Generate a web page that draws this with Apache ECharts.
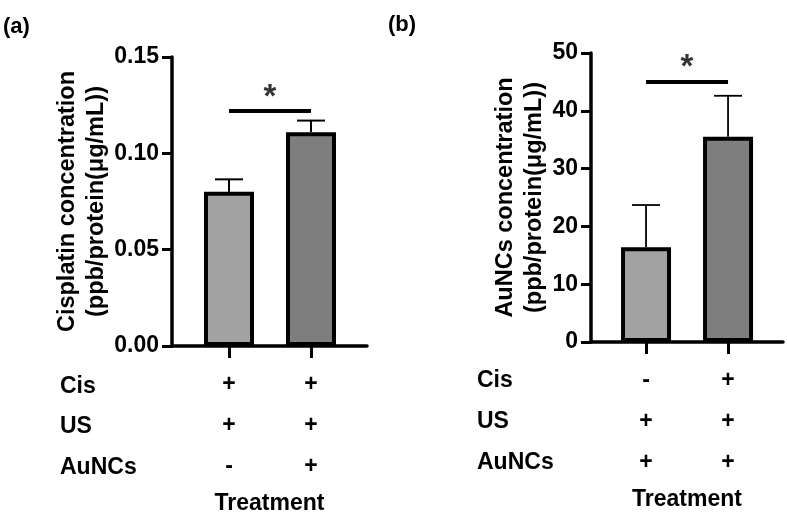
<!DOCTYPE html>
<html>
<head>
<meta charset="utf-8">
<script src="https://cdn.jsdelivr.net/npm/echarts@6/dist/echarts.min.js"></script>
<style>html,body{margin:0;padding:0;background:#fff}#c{width:787px;height:523px}</style>
</head>
<body>
<div id="c"></div>
<script>
// ---------- data ----------
const groupPos = [1, 2];
const rowLabels = ['Cis', 'US', 'AuNCs'];
const signsA = [['+', '+'], ['+', '+'], ['-', '+']];
const signsB = [['-', '+'], ['+', '+'], ['+', '+']];
const meansA = [0.080, 0.111];
const errA = [0.0065, 0.006];
const meansB = [16.4, 35.5];
const errB = [7.3, 7.1];
const sigA = [1, 2, 0.122];
const sigB = [1, 2, 45];
const yTicksA = [0, 0.05, 0.10, 0.15];
const yTicksB = [0, 10, 20, 30, 40, 50];
const titleA = ['Cisplatin concentration', '(ppb/protein(μg/mL))'];
const titleB = ['AuNCs concentration', '(ppb/protein(μg/mL))'];
const barColors = ['#a2a2a2', '#7e7e7e'];

// ---------- style ----------
const FF = '"Liberation Sans", Arial, Helvetica, sans-serif';
const txt = { fontFamily: FF, fontWeight: 'bold', color: '#000' };

function xLabel(signs) {
  return function (v) {
    const i = groupPos.indexOf(Math.round(v));
    return signs.map(r => r[i]).join('\n');
  };
}

function makeX(gi, min, max, signs, gap) {
  return {
    gridIndex: gi, type: 'value', min: min, max: max,
    axisLine: { show: true, onZero: false, lineStyle: { color: '#000', width: 3.5 } },
    axisTick: { show: true, customValues: groupPos, length: 12, lineStyle: { color: '#000', width: 3 } },
    axisLabel: Object.assign({ show: true, customValues: groupPos, formatter: xLabel(signs), fontSize: 23, lineHeight: 41, margin: 18 }, txt),
    splitLine: { show: false },
    name: 'Treatment', nameLocation: 'middle', nameGap: gap,
    nameTextStyle: Object.assign({ fontSize: 23 }, txt)
  };
}
function makeY(gi, max, interval, dec, title, gap) {
  return {
    gridIndex: gi, type: 'value', min: 0, max: max, interval: interval,
    axisLine: { show: true, lineStyle: { color: '#000', width: 3.5 } },
    axisTick: { show: true, length: 10, lineStyle: { color: '#000', width: 3 } },
    axisLabel: Object.assign({ fontSize: 23, margin: 13, formatter: v => v.toFixed(dec) }, txt),
    splitLine: { show: false },
    name: title.join('\n'), nameLocation: 'middle', nameRotate: 90, nameGap: gap,
    nameTextStyle: Object.assign({ fontSize: 23.5, lineHeight: 28.5, align: 'center' }, txt)
  };
}
function barSeries(gi, means) {
  return {
    type: 'bar', xAxisIndex: gi, yAxisIndex: gi, barWidth: 50,
    data: means.map((m, i) => ({ value: [groupPos[i], m], itemStyle: { color: barColors[i] } })),
    itemStyle: { borderColor: '#000', borderWidth: 4 }, z: 2
  };
}
function errSeries(gi, means, errs, lw) {
  return {
    type: 'custom', xAxisIndex: gi, yAxisIndex: gi, z: 1,
    data: means.map((m, i) => [groupPos[i], m, m + errs[i]]),
    renderItem: function (params, api) {
      const p0 = api.coord([api.value(0), api.value(1)]);
      const p1 = api.coord([api.value(0), api.value(2)]);
      const st = { stroke: '#000', lineWidth: lw };
      return { type: 'group', children: [
        { type: 'line', shape: { x1: p0[0], y1: p0[1], x2: p1[0], y2: p1[1] }, style: st },
        { type: 'line', shape: { x1: p1[0] - 14, y1: p1[1], x2: p1[0] + 14, y2: p1[1] }, style: st }
      ] };
    }
  };
}
function sigSeries(gi, sig) {
  return [
    { type: 'line', xAxisIndex: gi, yAxisIndex: gi, symbol: 'none', silent: true,
      data: [[sig[0], sig[2]], [sig[1], sig[2]]], lineStyle: { color: '#000', width: 4 }, z: 3 },
    { type: 'scatter', xAxisIndex: gi, yAxisIndex: gi, symbolSize: 0,
      data: [[(sig[0] + sig[1]) / 2, sig[2]]],
      label: Object.assign({ show: true, position: 'top', distance: -3, formatter: '*', fontSize: 33 }, txt) }
  ];
}
function rowText(x, yc) {
  return rowLabels.map((t, i) => ({
    type: 'text', x: x, y: yc[i],
    style: { text: t, font: 'bold 23px ' + FF, fill: '#000', verticalAlign: 'middle', align: 'left' }
  }));
}

const chart = echarts.init(document.getElementById('c'), null, { renderer: 'canvas' });
chart.setOption({
  animation: false,
  backgroundColor: '#fff',
  grid: [
    { left: 172, right: 420, top: 57, bottom: 177 },
    { left: 591, right: 4, top: 53, bottom: 181 }
  ],
  xAxis: [makeX(0, 0.305, 2.683, signsA, 137), makeX(1, 0.329, 2.67, signsB, 143)],
  yAxis: [makeY(0, 0.15, 0.05, 2, titleA, 60), makeY(1, 50, 10, 0, titleB, 40)],
  series: [
    barSeries(0, meansA), errSeries(0, meansA, errA, 2),
    barSeries(1, meansB), errSeries(1, meansB, errB, 1.8)
  ].concat(sigSeries(0, sigA), sigSeries(1, sigB)),
  graphic: [
    { type: 'text', x: 3, y: 27, style: { text: '(a)', font: 'bold 22px ' + FF, fill: '#000', verticalAlign: 'middle' } },
    { type: 'text', x: 388, y: 25, style: { text: '(b)', font: 'bold 22px ' + FF, fill: '#000', verticalAlign: 'middle' } }
  ].concat(rowText(60, [387, 427, 468]), rowText(477, [381, 422, 463]))
});
</script>
</body>
</html>
